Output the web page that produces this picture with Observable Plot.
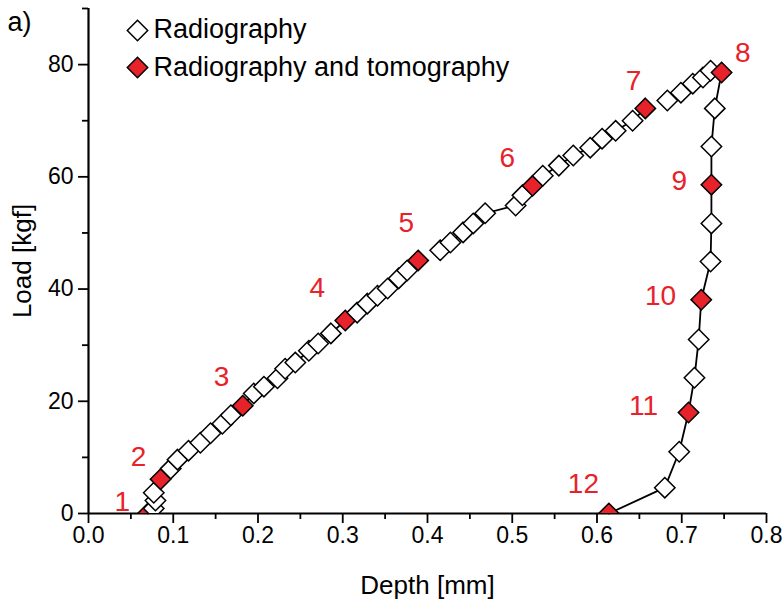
<!DOCTYPE html>
<html>
<head>
<meta charset="utf-8">
<script src="https://cdn.jsdelivr.net/npm/d3@7"></script>
<script src="https://cdn.jsdelivr.net/npm/@observablehq/plot@0.6"></script>
<style>
  html, body { margin: 0; padding: 0; background: #fff; }
  #chart { width: 783px; height: 603px; }
</style>
</head>
<body>
<div id="chart"></div>
<script>
// ---- data ----
const depth = [0.070, 0.077, 0.079, 0.077, 0.085, 0.097, 0.105, 0.118, 0.132, 0.144, 0.158, 0.168, 0.182,
  0.195, 0.207, 0.223, 0.232, 0.244, 0.260, 0.271, 0.286, 0.303, 0.317, 0.329, 0.341, 0.353, 0.366, 0.376, 0.389,
  0.415, 0.427, 0.442, 0.454, 0.468, 0.504, 0.512, 0.524, 0.536, 0.555, 0.572, 0.592, 0.606, 0.622, 0.642, 0.657,
  0.683, 0.699, 0.713, 0.725, 0.734, 0.747, 0.739, 0.735, 0.735, 0.735, 0.734, 0.723, 0.720, 0.715, 0.708, 0.697, 0.680, 0.614];
const load = [0.0, 0.9, 2.3, 3.7, 6.1, 8.0, 9.6, 11.2, 12.6, 14.3, 16.0, 17.5, 19.2,
  21.4, 22.6, 24.1, 25.8, 26.9, 29.0, 30.3, 32.1, 34.4, 35.8, 37.4, 38.8, 40.1, 41.9, 43.3, 45.1,
  46.9, 48.3, 50.1, 51.7, 53.5, 54.9, 56.7, 58.4, 60.2, 62.0, 63.8, 65.2, 66.8, 68.2, 70.0, 72.2,
  73.6, 75.0, 76.6, 77.7, 78.9, 78.6, 72.2, 65.4, 58.6, 51.7, 44.9, 38.1, 31.0, 24.2, 18.0, 11.0, 4.6, 0.0];
// 1 = radiography and tomography, 0 = radiography only
const tomo = [1, 0, 0, 0, 1, 0, 0, 0, 0, 0, 0, 0, 1,
  0, 0, 0, 0, 0, 0, 0, 0, 1, 0, 0, 0, 0, 0, 0, 1,
  0, 0, 0, 0, 0, 0, 0, 1, 0, 0, 0, 0, 0, 0, 0, 1,
  0, 0, 0, 0, 0, 1, 0, 0, 1, 0, 0, 1, 0, 0, 1, 0, 0, 1];
// connected runs of the black line
const branch = [
  "a","a","a","a","a","a","a","a","a","a","a","a","a","a","a","a","a","a","a","a","a","a","a","a","a","a","a","a","a",
  "b","b","b","b","b","b","b","b","b","b","b","b","b","b","b","b",
  "c","c","c","c","c","c","c","c","c","c","c","c","c","c","c","c","c","c"];

// step numbers (red annotations)
const stepText = ["1","2","3","4","5","6","7","8","9","10","11","12"];
const stepDepth = [0.040, 0.059, 0.157, 0.270, 0.375, 0.494, 0.643, 0.772, 0.697, 0.675, 0.655, 0.584];
const stepLoad = [2.1, 10.0, 24.4, 40.1, 51.7, 63.4, 77.1, 82.1, 59.3, 38.7, 19.2, 5.3];

const xMajor = [0, 0.1, 0.2, 0.3, 0.4, 0.5, 0.6, 0.7, 0.8];
const xMinor = [0.05, 0.15, 0.25, 0.35, 0.45, 0.55, 0.65, 0.75];
const yMajor = [0, 20, 40, 60, 80];
const yMinor = [10, 30, 50, 70, 90];

const legendLabels = ["Radiography", "Radiography and tomography"];
const xTitle = "Depth [mm]";
const yTitle = "Load [kgf]";
const panel = "a)";

// ---- build ----
const RED = "#e8222a";
const points = depth.map((d, i) => ({depth: d, load: load[i], tomo: tomo[i], branch: branch[i]}));
const steps = stepText.map((t, i) => ({t, x: stepDepth[i], y: stepLoad[i]}));
const FONT = "'Liberation Sans', Arial, Helvetica, sans-serif";
const R = 9.2;

const chart = Plot.plot({
  width: 783,
  height: 603,
  marginLeft: 88,
  marginRight: 17,
  marginTop: 8,
  marginBottom: 90,
  style: {fontFamily: FONT, background: "white", color: "black", overflow: "visible"},
  x: {domain: [0, 0.8]},
  y: {domain: [0, 90]},
  color: {type: "identity"},
  marks: [
    Plot.axisX({ticks: xMajor, tickSize: 10, tickPadding: 3, tickFormat: d3.format(".1f"), fontSize: 23, strokeWidth: 1.8, label: null}),
    Plot.axisX({ticks: xMinor, tickSize: 6, tickFormat: () => "", strokeWidth: 1.8, label: null}),
    Plot.axisY({ticks: yMajor, tickSize: 10, tickPadding: 5, fontSize: 23, strokeWidth: 1.8, label: null}),
    Plot.axisY({ticks: yMinor, tickSize: 6, tickFormat: () => "", strokeWidth: 1.8, label: null}),
    Plot.ruleX([0], {strokeWidth: 2.2}),
    Plot.ruleY([0], {strokeWidth: 2.2}),
    Plot.text([xTitle], {frameAnchor: "bottom", dy: 80, textAnchor: "middle", lineAnchor: "bottom", fontSize: 26}),
    Plot.text([yTitle], {frameAnchor: "left", dx: -66, rotate: -90, textAnchor: "middle", lineAnchor: "middle", fontSize: 26}),
    Plot.text([panel], {frameAnchor: "top-left", dx: -81, dy: 3, textAnchor: "start", lineAnchor: "top", fontSize: 27}),
    Plot.line(points, {x: "depth", y: "load", z: "branch", stroke: "black", strokeWidth: 1.8}),
    Plot.dot(points, {x: "depth", y: "load", symbol: "diamond2", r: R, fill: d => d.tomo ? RED : "white", stroke: "black", strokeWidth: 1.5, clip: true}),
    Plot.text(steps, {x: "x", y: "y", text: "t", fill: RED, fontSize: 28}),
    // legend
    Plot.dot([legendLabels[0]], {frameAnchor: "top-left", dx: 49, dy: 22, symbol: "diamond2", r: R, fill: "white", stroke: "black", strokeWidth: 1.5}),
    Plot.dot([legendLabels[1]], {frameAnchor: "top-left", dx: 49, dy: 59, symbol: "diamond2", r: R, fill: RED, stroke: "black", strokeWidth: 1.5}),
    Plot.text([legendLabels[0]], {frameAnchor: "top-left", dx: 65, dy: 21, textAnchor: "start", lineAnchor: "middle", fontSize: 27}),
    Plot.text([legendLabels[1]], {frameAnchor: "top-left", dx: 65, dy: 59, textAnchor: "start", lineAnchor: "middle", fontSize: 27})
  ]
});
document.getElementById("chart").appendChild(chart);
</script>
</body>
</html>
